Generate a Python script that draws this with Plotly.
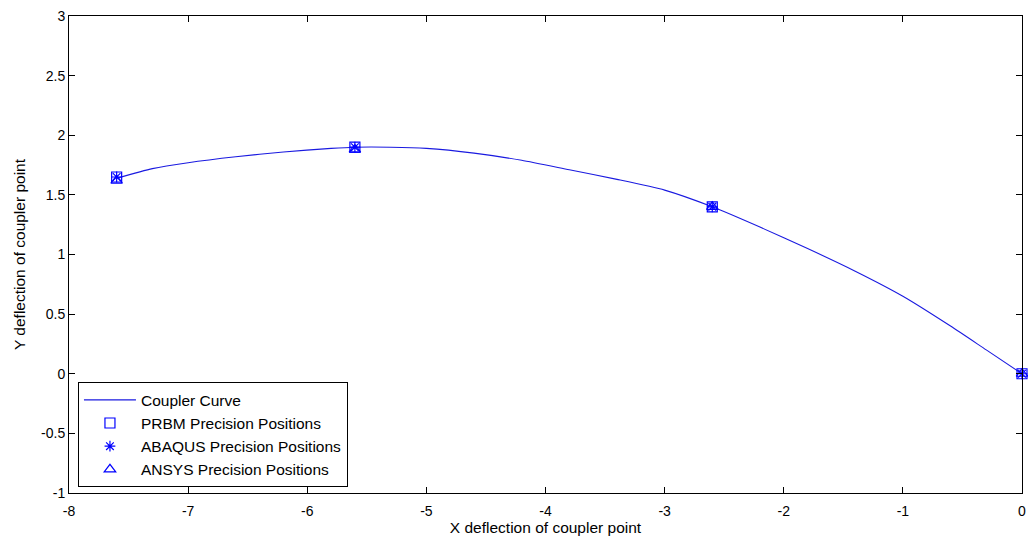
import plotly.graph_objects as go

# Coupler curve
curve_x = [-7.6, -7.3, -7.0, -6.6, -6.2, -5.8, -5.6, -5.3, -5.0, -4.6, -4.2, -3.8, -3.4, -3.0, -2.6, -2.2, -1.8, -1.4, -1.0, -0.6, -0.3, 0.0]
curve_y = [1.64, 1.72, 1.77, 1.82, 1.86, 1.89, 1.90, 1.90, 1.89, 1.85, 1.79, 1.71, 1.63, 1.54, 1.40, 1.23, 1.05, 0.86, 0.65, 0.40, 0.20, 0.0]

prbm_x = [-7.6, -5.6, -2.6, 0.0]
prbm_y = [1.65, 1.90, 1.40, 0.0]
abaqus_x = [-7.6, -5.6, -2.6, 0.0]
abaqus_y = [1.65, 1.90, 1.40, 0.0]
ansys_x = [-7.6, -5.6, -2.6, 0.0]
ansys_y = [1.62, 1.88, 1.40, 0.0]

FONT = "Liberation Sans, Arial"
blue = "#0000ff"
fig = go.Figure()
fig.add_trace(go.Scatter(x=curve_x, y=curve_y, mode="lines", name="Coupler Curve", cliponaxis=False,
                         line=dict(color="#1a1ae0", width=1.1, shape="spline", smoothing=0.6)))
fig.add_trace(go.Scatter(x=prbm_x, y=prbm_y, mode="markers", name="PRBM Precision Positions", cliponaxis=False,
                         marker=dict(symbol="square-open", size=10, color=blue, line=dict(width=1.2, color=blue))))
fig.add_trace(go.Scatter(x=abaqus_x, y=abaqus_y, mode="markers", name="ABAQUS Precision Positions", cliponaxis=False,
                         marker=dict(symbol="asterisk-open", size=9, color=blue, line=dict(width=1.2, color=blue))))
fig.add_trace(go.Scatter(x=ansys_x, y=ansys_y, mode="markers", name="ANSYS Precision Positions", cliponaxis=False,
                         marker=dict(symbol="triangle-up-open", size=10, color=blue, line=dict(width=1.2, color=blue))))

axis_common = dict(showgrid=False, zeroline=False, showline=True, linecolor="black", linewidth=1,
                   mirror="ticks", ticks="inside", ticklen=6, tickcolor="black", automargin=False,
                   ticklabeloverflow="allow",
                   tickfont=dict(family=FONT, size=14, color="black"))
fig.update_xaxes(range=[-8, 0], tickmode="array", tickvals=list(range(-8, 1)),
                 ticktext=[str(v) for v in range(-8, 1)], ticklabelstandoff=5,
                 title=dict(text="X deflection of coupler point", standoff=4,
                            font=dict(family=FONT, size=15.5, color="black")),
                 **axis_common)
yt = [-1, -0.5, 0, 0.5, 1, 1.5, 2, 2.5, 3]
fig.update_yaxes(range=[-1, 3], tickmode="array", tickvals=yt,
                 ticktext=[("%g" % v) for v in yt],
                 title=dict(text="Y deflection of coupler point", standoff=11,
                            font=dict(family=FONT, size=15.5, color="black")),
                 **axis_common)
fig.update_layout(width=1028, height=539, margin=dict(l=69, r=6, t=16, b=46),
                  plot_bgcolor="white", paper_bgcolor="white",
                  font=dict(family=FONT, size=15, color="black"),
                  legend=dict(x=0.0094, y=0.012, xanchor="left", yanchor="bottom",
                              bordercolor="black", borderwidth=1, bgcolor="white",
                              font=dict(family=FONT, size=15.5, color="black"),
                              tracegroupgap=0, itemwidth=52))
# remove the default 8px page margin so the figure fills the window exactly
fig.write_html("out.html", config={"displayModeBar": False},
               post_script="document.body.style.margin='0';")
